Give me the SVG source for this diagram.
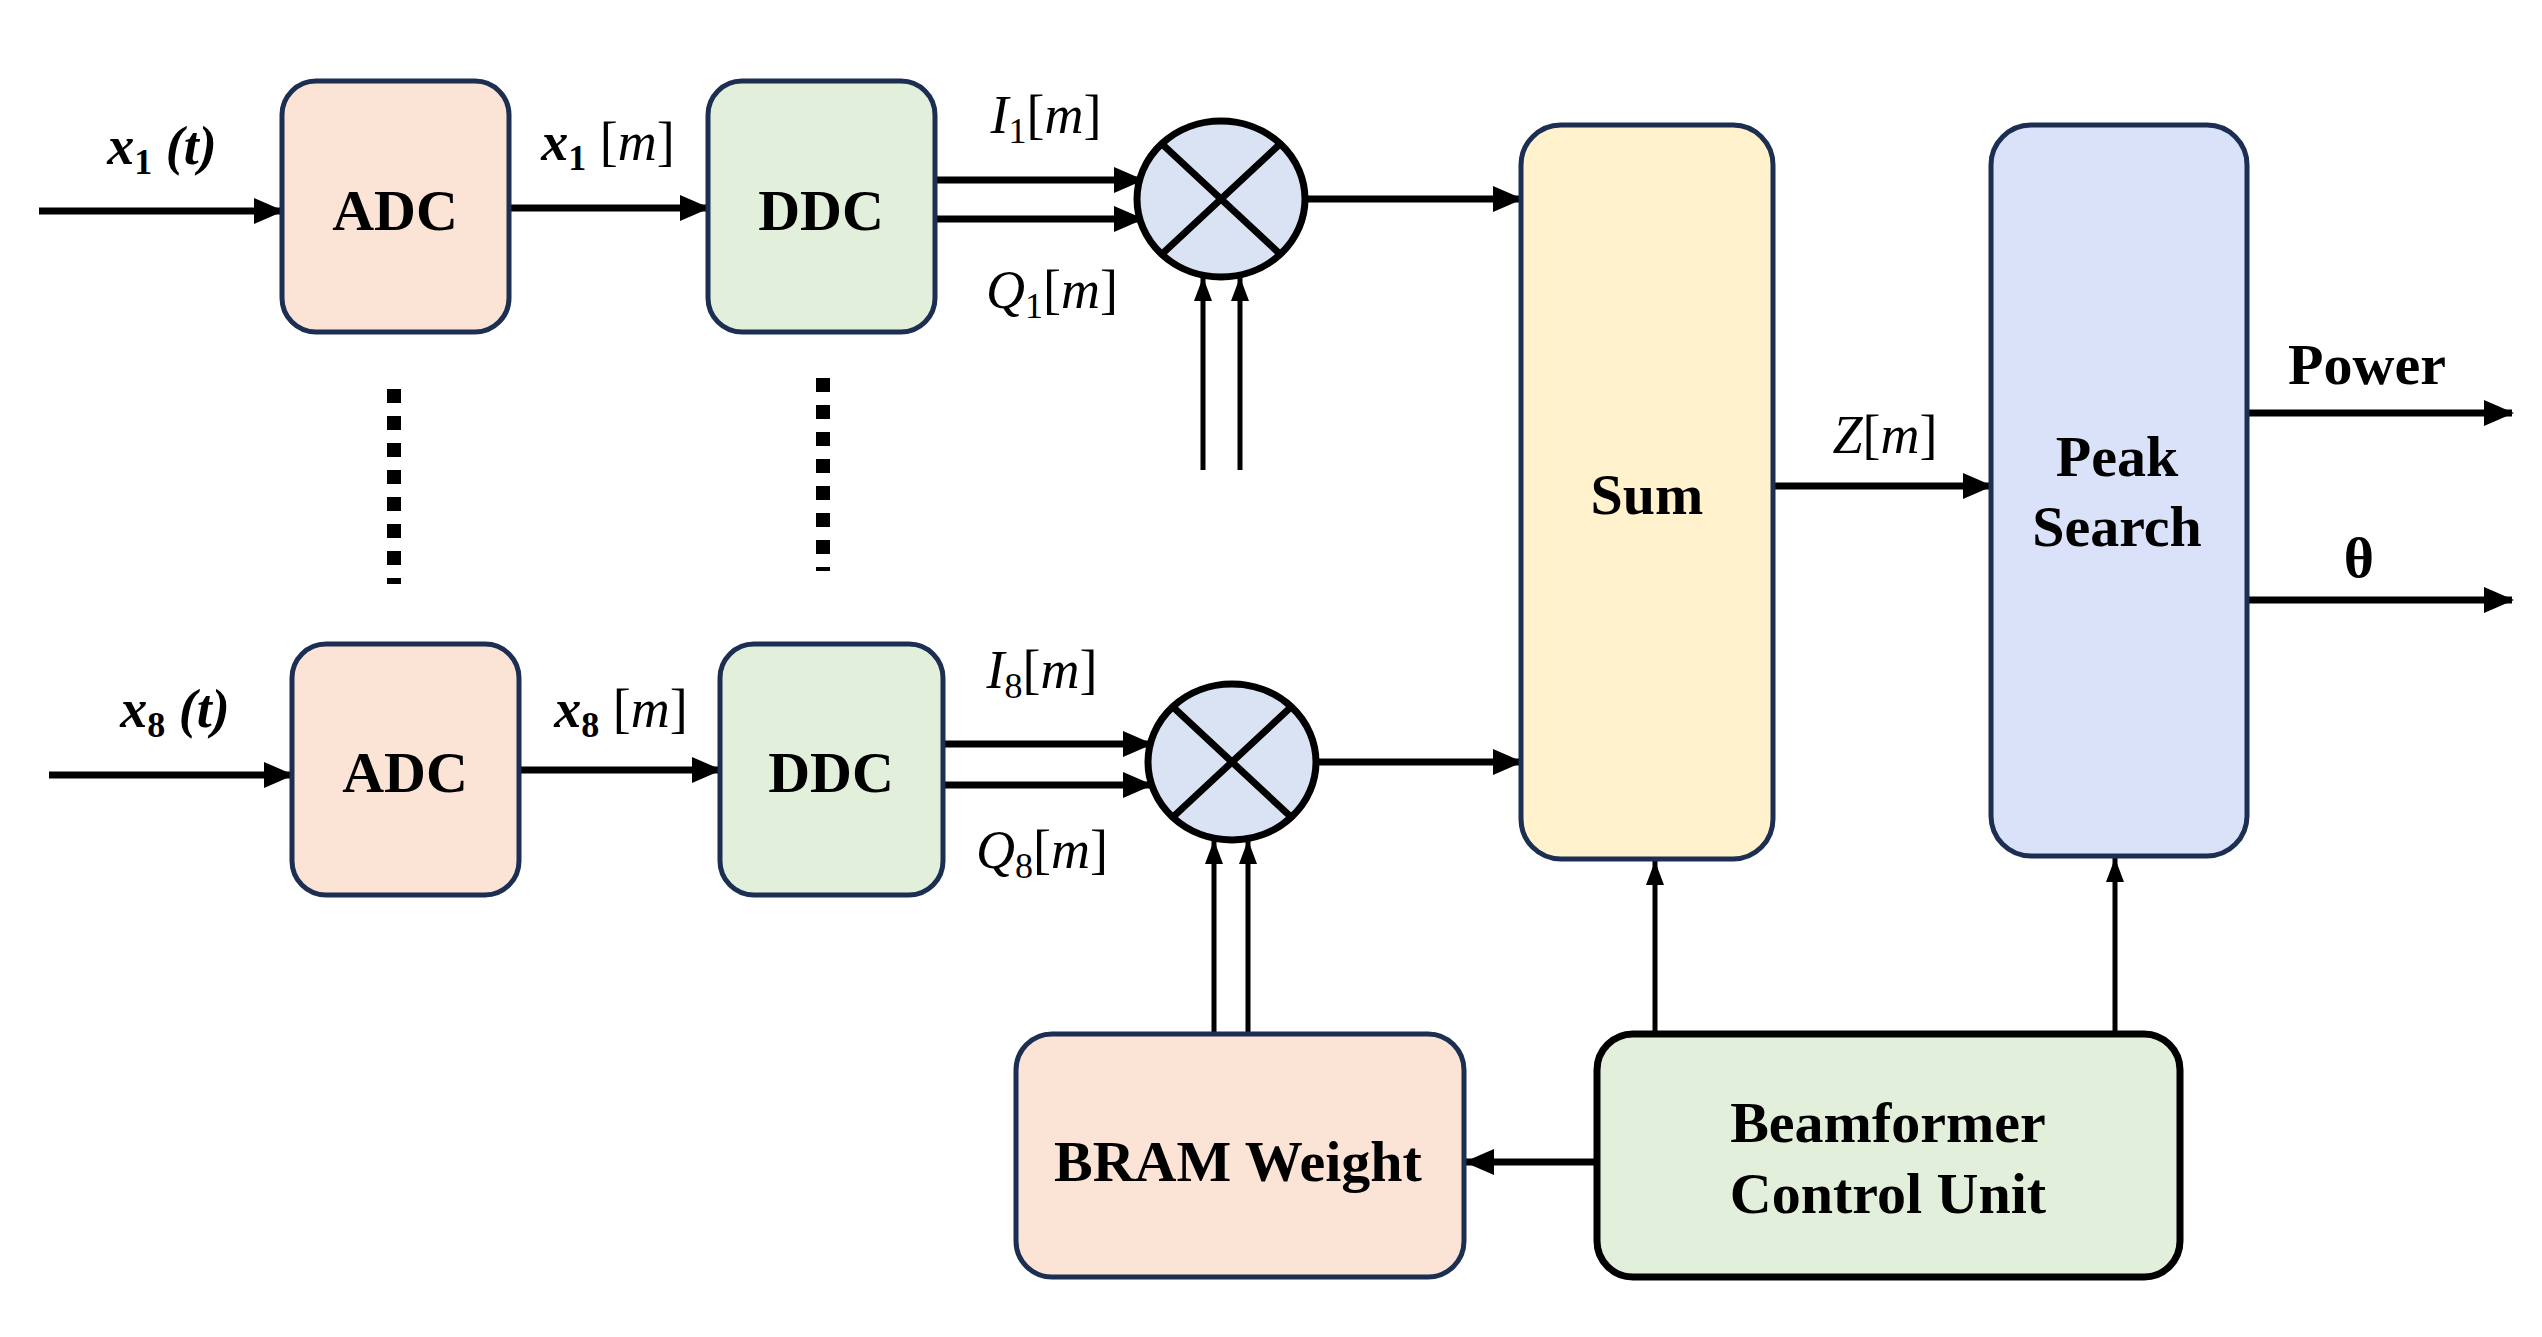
<svg xmlns="http://www.w3.org/2000/svg" width="2542" height="1337" viewBox="0 0 2542 1337">
<style>
.box{stroke:#1c2e52;stroke-width:5}
.lbl{font-family:"Liberation Serif",serif;font-weight:bold;font-size:58px;fill:#000;text-anchor:middle}
.math{font-family:"Liberation Serif",serif;font-style:italic;font-size:54px;fill:#000;text-anchor:middle}
.mb{font-family:"Liberation Serif",serif;font-style:italic;font-weight:bold;font-size:54px;fill:#000;text-anchor:middle}
.sub{font-size:36px;font-style:normal}
.ln{stroke:#000;stroke-width:7;fill:none;marker-end:url(#ah)}
.ln2{stroke:#000;stroke-width:5;fill:none;marker-end:url(#ah2)}
.dot{stroke:#000;stroke-width:14;stroke-dasharray:14 13;fill:none}
</style>
<defs>
<marker id="ah" markerUnits="userSpaceOnUse" markerWidth="30" markerHeight="30" refX="28" refY="15" orient="auto"><path d="M0,2 L30,15 L0,28 Z" fill="#000"/></marker>
<marker id="ah2" markerUnits="userSpaceOnUse" markerWidth="24" markerHeight="24" refX="24" refY="12" orient="auto"><path d="M0,3 L24,12 L0,21 Z" fill="#000"/></marker>
</defs>
<rect width="2542" height="1337" fill="#fff"/>
<g id="connectors">
<line class="ln" x1="39" y1="211" x2="282" y2="211"/>
<line class="ln" x1="509" y1="208" x2="708" y2="208"/>
<line class="ln" x1="935" y1="180" x2="1142" y2="180"/>
<line class="ln" x1="935" y1="219" x2="1142" y2="219"/>
<line class="ln" x1="1305" y1="199" x2="1521" y2="199"/>
<line class="ln2" x1="1203" y1="470" x2="1203" y2="277"/>
<line class="ln2" x1="1240" y1="470" x2="1240" y2="277"/>
<line class="ln" x1="49" y1="775" x2="292" y2="775"/>
<line class="ln" x1="519" y1="770" x2="720" y2="770"/>
<line class="ln" x1="943" y1="744" x2="1151" y2="744"/>
<line class="ln" x1="943" y1="785" x2="1151" y2="785"/>
<line class="ln" x1="1316" y1="762" x2="1521" y2="762"/>
<line class="ln2" x1="1214" y1="1034" x2="1214" y2="840"/>
<line class="ln2" x1="1248" y1="1034" x2="1248" y2="840"/>
<line class="ln" x1="1773" y1="486" x2="1991" y2="486"/>
<line class="ln" x1="2247" y1="413" x2="2512" y2="413"/>
<line class="ln" x1="2247" y1="600" x2="2512" y2="600"/>
<line class="ln2" x1="1655" y1="1034" x2="1655" y2="861"/>
<line class="ln2" x1="2115" y1="1034" x2="2115" y2="858"/>
<line class="ln" x1="1597" y1="1162" x2="1466" y2="1162"/>
<line class="dot" x1="394" y1="389" x2="394" y2="584"/>
<line class="dot" x1="823" y1="378" x2="823" y2="571"/>
</g>
<g id="adc1"><rect class="box" x="282" y="81" width="227" height="251" rx="34" fill="#fbe3d6"/><text class="lbl" x="395" y="230">ADC</text></g>
<g id="ddc1"><rect class="box" x="708" y="81" width="227" height="251" rx="34" fill="#e2efda"/><text class="lbl" x="821" y="230">DDC</text></g>
<g id="mix1"><ellipse cx="1221" cy="199" rx="84" ry="78" stroke="#000" stroke-width="7" fill="#dae3f3"/><path d="M1162,144 L1280,254 M1280,144 L1162,254" stroke="#000" stroke-width="7"/></g>
<g id="adc8"><rect class="box" x="292" y="644" width="227" height="251" rx="34" fill="#fbe3d6"/><text class="lbl" x="405" y="792">ADC</text></g>
<g id="ddc8"><rect class="box" x="720" y="644" width="223" height="251" rx="34" fill="#e2efda"/><text class="lbl" x="831" y="792">DDC</text></g>
<g id="mix8"><ellipse cx="1232" cy="762" rx="84" ry="78" stroke="#000" stroke-width="7" fill="#dae3f3"/><path d="M1173,707 L1291,817 M1291,707 L1173,817" stroke="#000" stroke-width="7"/></g>
<g id="sum"><rect class="box" x="1521" y="125" width="252" height="734" rx="40" fill="#fff2cc"/><text class="lbl" x="1647" y="514">Sum</text></g>
<g id="peak"><rect class="box" x="1991" y="125" width="256" height="731" rx="40" fill="#d9e2f8"/><text class="lbl" x="2117" y="476">Peak</text><text class="lbl" x="2117" y="546">Search</text></g>
<g id="bram"><rect class="box" x="1016" y="1034" width="448" height="243" rx="36" fill="#fbe3d6"/><text class="lbl" x="1238" y="1181">BRAM Weight</text></g>
<g id="bcu"><rect x="1597" y="1034" width="583" height="243" rx="36" fill="#e2efda" stroke="#000" stroke-width="7"/><text class="lbl" x="1888" y="1142">Beamformer</text><text class="lbl" x="1888" y="1213">Control Unit</text></g>
<g id="labels">
<text class="mb" x="162" y="164">x<tspan class="sub" dy="10">1</tspan><tspan dy="-10"> (t)</tspan></text>
<text class="math" x="608" y="160"><tspan font-weight="bold">x</tspan><tspan class="sub" dy="10" font-weight="bold">1</tspan><tspan dy="-10" font-style="normal"> [</tspan>m<tspan font-style="normal">]</tspan></text>
<text class="math" x="1046" y="133">I<tspan class="sub" dy="10">1</tspan><tspan dy="-10" font-style="normal">[</tspan>m<tspan font-style="normal">]</tspan></text>
<text class="math" x="1052" y="308">Q<tspan class="sub" dy="10">1</tspan><tspan dy="-10" font-style="normal">[</tspan>m<tspan font-style="normal">]</tspan></text>
<text class="mb" x="175" y="727">x<tspan class="sub" dy="10">8</tspan><tspan dy="-10"> (t)</tspan></text>
<text class="math" x="621" y="727"><tspan font-weight="bold">x</tspan><tspan class="sub" dy="10" font-weight="bold">8</tspan><tspan dy="-10" font-style="normal"> [</tspan>m<tspan font-style="normal">]</tspan></text>
<text class="math" x="1042" y="688">I<tspan class="sub" dy="10">8</tspan><tspan dy="-10" font-style="normal">[</tspan>m<tspan font-style="normal">]</tspan></text>
<text class="math" x="1042" y="868">Q<tspan class="sub" dy="10">8</tspan><tspan dy="-10" font-style="normal">[</tspan>m<tspan font-style="normal">]</tspan></text>
<text class="math" x="1885" y="453">Z<tspan font-style="normal">[</tspan>m<tspan font-style="normal">]</tspan></text>
<text class="lbl" x="2367" y="384">Power</text>
<text class="lbl" x="2359" y="577">θ</text>
</g>
</svg>
